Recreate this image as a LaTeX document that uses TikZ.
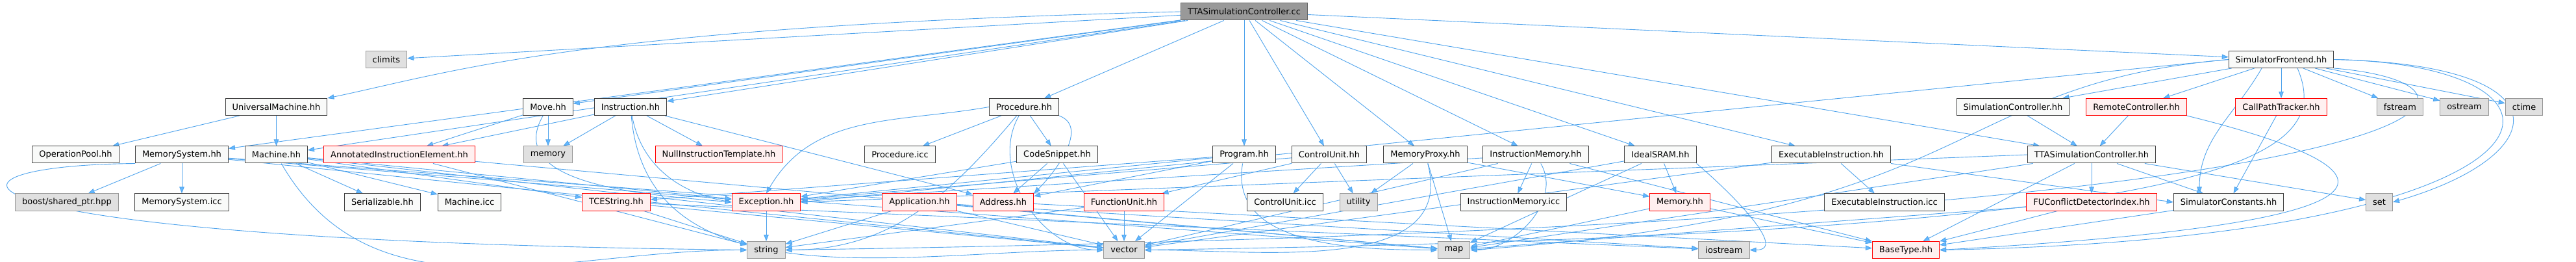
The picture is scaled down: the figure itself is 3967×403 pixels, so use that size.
\documentclass[tikz,border=0pt]{standalone}
\usepackage{fontspec}
\setmainfont{DejaVu Sans}
\usepackage{tikz}
\usetikzlibrary{arrows.meta, positioning, backgrounds}
\usepackage{xcolor}
\definecolor{dline}{HTML}{4FA3EC}
\definecolor{dtip}{HTML}{63B8FF}
\definecolor{dframe}{HTML}{404040}
\definecolor{dfill}{HTML}{F9FAF9}
\definecolor{dred}{HTML}{FF0000}
\definecolor{dpink}{HTML}{FFF0F0}
\definecolor{dgray}{HTML}{E0E0E0}
\definecolor{dgrayline}{HTML}{999999}
\definecolor{droot}{HTML}{999999}
\definecolor{drootline}{HTML}{666666}
\tikzset{
  file/.style={draw=dframe, fill=dfill, line width=1pt, minimum height=26pt,
               inner xsep=10.5pt, inner ysep=0pt, font=\fontsize{13}{15}\selectfont},
  redfile/.style={file, draw=dred, fill=dpink},
  sysfile/.style={file, draw=dgrayline, fill=dgray},
  rootfile/.style={file, draw=drootline, fill=droot},
  inc/.style={-{Triangle[length=10pt, width=7.5pt, fill=dtip]}, draw=dline, line width=0.9pt},
}

\begin{document}
\begin{tikzpicture}[x=1pt, y=-1pt]
  \useasboundingbox (0,0) rectangle (3967,403);

  \node[rootfile] (root) at (1916,18) {TTASimulationController.cc};

  \node[sysfile] (climits)  at (595,91.5)  {climits};
  \node[file]    (frontend) at (3513,91.5) {SimulatorFrontend.hh};

  \node[file]    (univ)     at (425.5,164.5) {UniversalMachine.hh};
  \node[file]    (move)     at (844,164.5)   {Move.hh};
  \node[file]    (instr)    at (971,164.5)   {Instruction.hh};
  \node[file]    (proc)     at (1577,164.5)  {Procedure.hh};
  \node[file]    (simctrl)  at (3100,164.5)  {SimulationController.hh};
  \node[redfile] (remote)   at (3290,164.5)  {RemoteController.hh};
  \node[redfile] (callpath) at (3513,164.5)  {CallPathTracker.hh};
  \node[sysfile] (fstream)  at (3696,164.5)  {fstream};
  \node[sysfile] (ostream)  at (3795,164.5)  {ostream};
  \node[sysfile] (ctime)    at (3887,164.5)  {ctime};

  \node[file]    (oppool)    at (116.5,238) {OperationPool.hh};
  \node[file]    (memsys)    at (280,238)   {MemorySystem.hh};
  \node[file]    (machine)   at (425.5,238) {Machine.hh};
  \node[redfile] (annot)     at (615,238)   {AnnotatedInstructionElement.hh};
  \node[sysfile] (memory)    at (844,238)   {memory};
  \node[redfile] (nullinstr) at (1107,238)  {NullInstructionTemplate.hh};
  \node[file]    (procicc)   at (1386,238)  {Procedure.icc};
  \node[file]    (snippet)   at (1628,238)  {CodeSnippet.hh};
  \node[file]    (program)   at (1916,238)  {Program.hh};
  \node[file]    (cunit)     at (2047,238)  {ControlUnit.hh};
  \node[file]    (mproxy)    at (2195,238)  {MemoryProxy.hh};
  \node[file]    (imem)      at (2365,238)  {InstructionMemory.hh};
  \node[file]    (sram)      at (2557,238)  {IdealSRAM.hh};
  \node[file]    (execinstr) at (2820,238)  {ExecutableInstruction.hh};
  \node[file]    (ttactrl)   at (3221,238)  {TTASimulationController.hh};

  \node[sysfile] (boost)     at (103,311)  {boost/shared\_ptr.hpp};
  \node[file]    (memsysicc) at (280,311)  {MemorySystem.icc};
  \node[file]    (serial)    at (589,311)  {Serializable.hh};
  \node[file]    (machicc)   at (723,311)  {Machine.icc};
  \node[redfile] (tcestr)    at (949,311)  {TCEString.hh};
  \node[redfile] (exception) at (1180,311) {Exception.hh};
  \node[redfile] (appl)      at (1416,311) {Application.hh};
  \node[redfile] (address)   at (1545,311) {Address.hh};
  \node[redfile] (fu)        at (1731,311) {FunctionUnit.hh};
  \node[file]    (cuicc)     at (1979,311) {ControlUnit.icc};
  \node[sysfile] (utility)   at (2092,311) {utility};
  \node[file]    (imemicc)   at (2331,311) {InstructionMemory.icc};
  \node[redfile] (memoryhh)  at (2587,311) {Memory.hh};
  \node[file]    (execicc)   at (2902,311) {ExecutableInstruction.icc};
  \node[redfile] (fucd)      at (3221,311) {FUConflictDetectorIndex.hh};
  \node[file]    (simconst)  at (3432,311) {SimulatorConstants.hh};
  \node[sysfile] (set)       at (3664,311) {set};

  \node[sysfile] (string)   at (1180,384.5) {string};
  \node[sysfile] (vector)   at (1731,384.5) {vector};
  \node[sysfile] (map)      at (2239,384.5) {map};
  \node[sysfile] (iostream) at (2655,384.5) {iostream};
  \node[redfile] (basetype) at (2935,384.5) {BaseType.hh};

  \begin{scope}[on background layer]
    \draw[inc] (root) -- (climits);
    \draw[inc] (root.west) .. controls (900,40) and (700,110) .. (univ.north east);
    \draw[inc] (root) -- (memsys);
    \draw[inc] (root) -- (machine);
    \draw[inc] (root) -- (move);
    \draw[inc] (root) -- (instr);
    \draw[inc] (root) -- (proc);
    \draw[inc] (root) -- (program);
    \draw[inc] (root) -- (cunit);
    \draw[inc] (root) -- (mproxy);
    \draw[inc] (root) -- (imem);
    \draw[inc] (root) -- (sram);
    \draw[inc] (root) -- (execinstr);
    \draw[inc] (root) -- (ttactrl);
    \draw[inc] (root) -- (frontend);

    \draw[inc] (frontend) -- (simctrl);
    \draw[inc] (frontend) -- (remote);
    \draw[inc] (frontend) -- (callpath);
    \draw[inc] (frontend) -- (fstream);
    \draw[inc] (frontend) -- (ostream);
    \draw[inc] (frontend) -- (ctime);
    \draw[inc] ([xshift=-30pt]frontend.south) to[out=-120, in=90] ([xshift=-45pt]simconst.north);
    \draw[inc] (frontend.east) .. controls (3960,100) and (3930,240) .. (set.east);
    \draw[inc] (frontend.east) .. controls (4020,100) and (3990,365) .. (basetype.east);
    \draw[inc] (frontend.south east) .. controls (3900,130) and (3860,345) .. (string.east);
    \draw[inc] ([xshift=25pt]frontend.south) .. controls (3600,250) and (3420,360) .. (vector.east);
    \draw[inc] (frontend.west) .. controls (2990,130) and (3060,330) .. (map.east);
    \draw[inc] (frontend.west) -- (exception.east);

    \draw[inc] (simctrl) -- (ttactrl);
    \draw[inc] (remote) -- (ttactrl);
    \draw[inc] (remote.south east) .. controls (3740,270) and (3700,345) .. (basetype.east);
    \draw[inc] (callpath) -- (simconst);

    \draw[inc] (ttactrl) -- (fucd);
    \draw[inc] (ttactrl) -- (simconst);
    \draw[inc] (ttactrl) -- (set);
    \draw[inc] (ttactrl) -- (map);
    \draw[inc] (ttactrl.west) -- (exception.east);
    \draw[inc] (ttactrl) -- (basetype);

    \draw[inc] (execinstr) -- (execicc);
    \draw[inc] (execinstr) -- (vector);
    \draw[inc] (execinstr.south east) -- (simconst.west);

    \draw[inc] (imem) -- (imemicc);
    \draw[inc] (imem) to[out=-60, in=0] (map.east);
    \draw[inc] (imem) -- (vector);
    \draw[inc] (imem) -- (basetype);
    \draw[inc] (imem) -- (exception);

    \draw[inc] (sram) -- (memoryhh);
    \draw[inc] (sram) -- (map);
    \draw[inc] (sram) -- (vector);
    \draw[inc] (sram.south east) to[out=-40, in=0] (iostream.east);

    \draw[inc] (mproxy) -- (utility);
    \draw[inc] (mproxy) -- (memoryhh);
    \draw[inc] (mproxy) -- (map);
    \draw[inc] (mproxy) to[out=-75, in=0] (vector.east);

    \draw[inc] (cunit) -- (cuicc);
    \draw[inc] (cunit) -- (utility);
    \draw[inc] (cunit) -- (fu);
    \draw[inc] (cunit) -- (exception);

    \draw[inc] (program) -- (address);
    \draw[inc] (program) -- (exception);
    \draw[inc] (program) -- (vector);
    \draw[inc] (program) to[out=-100, in=180] (map.west);
    \draw[inc] (program) -- (tcestr);

    \draw[inc] (snippet) -- (address);
    \draw[inc] (snippet) -- (exception);
    \draw[inc] (snippet) -- (vector);

    \draw[inc] (proc) -- (procicc);
    \draw[inc] (proc) -- (snippet);
    \draw[inc] (proc.south east) to[out=-20, in=45] (address.north east);
    \draw[inc] (proc.west) to[out=190, in=60] (exception.north);
    \draw[inc] (proc) to[out=-120, in=180] (vector.west);
    \draw[inc] (proc) to[out=-130, in=0] (string.east);

    \draw[inc] (instr) -- (annot);
    \draw[inc] (instr) -- (memory);
    \draw[inc] (instr) -- (nullinstr);
    \draw[inc] (instr) to[out=-80, in=170] (exception.west);
    \draw[inc] (instr) -- (address);
    \draw[inc] (instr) to[out=-85, in=180] (vector.west);

    \draw[inc] (move) -- (annot);
    \draw[inc] (move) -- (memory);
    \draw[inc] (move) to[out=-120, in=175] (exception.west);

    \draw[inc] (univ) -- (oppool);
    \draw[inc] (univ) -- (machine);

    \draw[inc] (memsys) -- (boost);
    \draw[inc] (memsys) -- (memsysicc);
    \draw[inc] (memsys) -- (exception);
    \draw[inc] (memsys.south west) .. controls (-150,255) and (-120,370) .. (string.west);
    \draw[inc] (memsys) -- (vector);
    \draw[inc] (memsys) -- (map);

    \draw[inc] (machine) -- (serial);
    \draw[inc] (machine) -- (machicc);
    \draw[inc] (machine) -- (tcestr);
    \draw[inc] (machine) -- (exception);
    \draw[inc] (machine) to[out=-60, in=180] (string.west);
    \draw[inc] (machine) -- (vector);

    \draw[inc] (annot) -- (string);
    \draw[inc] (annot) -- (map);

    \draw[inc] (tcestr) -- (string);
    \draw[inc] (tcestr) -- (vector);
    \draw[inc] (tcestr) -- (iostream);
    \draw[inc] (exception) -- (string);
    \draw[inc] (appl) -- (string);
    \draw[inc] (appl) -- (vector);
    \draw[inc] (appl) -- (map);
    \draw[inc] (appl) -- (iostream);
    \draw[inc] (address) -- (basetype);
    \draw[inc] (fu) -- (vector);
    \draw[inc] (fu) -- (string);
    \draw[inc] (memoryhh) -- (basetype);
    \draw[inc] (memoryhh) -- (map);
    \draw[inc] (fucd) -- (map);
    \draw[inc] (fucd) -- (basetype);
    \draw[inc] (simconst) -- (basetype);
  \end{scope}
\end{tikzpicture}
\end{document}
